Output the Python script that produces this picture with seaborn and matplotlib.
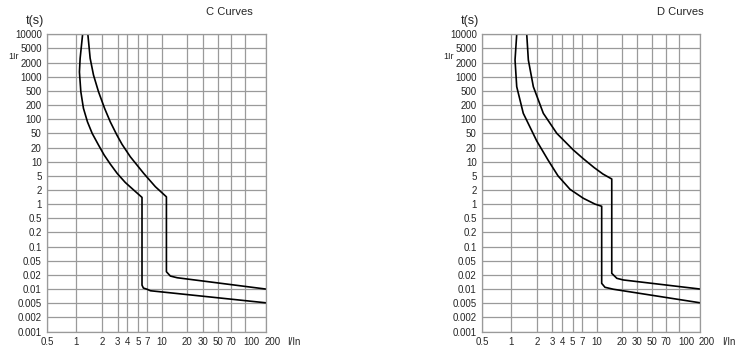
import numpy as np
import pandas as pd
import matplotlib
matplotlib.use("Agg")
import matplotlib.pyplot as plt
import matplotlib.transforms as mtransforms
import seaborn as sns

sns.set_theme(style="white")
plt.rcParams["font.family"] = ["Liberation Sans", "DejaVu Sans"]

# axis tick values (current multiple I/In, trip time t in s)
X_TICKS = [0.5, 1, 2, 3, 4, 5, 7, 10, 20, 30, 50, 70, 100, 200]
Y_TICKS = [10000, 5000, 2000, 1000, 500, 200, 100, 50, 20, 10, 5, 2, 1,
           0.5, 0.2, 0.1, 0.05, 0.02, 0.01, 0.005, 0.002, 0.001]

# C curve band
C_LOW_I = [1.19, 1.113, 1.092, 1.134, 1.216, 1.355, 1.538, 1.824, 2.12, 2.48,
           2.97, 3.75, 4.56, 5.8, 5.8, 6.1, 6.98, 7.57, 200]
C_LOW_T = [10000, 2640, 1262, 474, 171, 88, 50, 23.5, 13.8, 8.9,
           5.6, 3.25, 2.0, 1.39, 0.0121, 0.0105, 0.0099, 0.0092, 0.0051]
C_HIGH_I = [1.37, 1.457, 1.594, 1.824, 2.14, 2.48, 2.94, 3.41, 4.25, 6.16,
            8.53, 11.3, 11.3, 12.6, 15.2, 200]
C_HIGH_T = [10000, 2640, 1089, 474, 171, 88, 44.9, 24.6, 12.7, 5.65,
            2.47, 1.43, 0.0245, 0.0189, 0.0174, 0.01]

# D curve band
D_LOW_I = [1.165, 1.113, 1.165, 1.39, 2.0, 2.68, 3.53, 4.72, 7.26, 9.62,
           11.5, 11.5, 12.6, 15.9, 200]
D_LOW_T = [10000, 2366, 614, 133.5, 30.5, 10.8, 5.0, 2.09, 1.33, 1.0,
           0.9, 0.0132, 0.0109, 0.0099, 0.0051]
D_HIGH_I = [1.526, 1.594, 1.824, 2.37, 3.41, 5.12, 7.2, 9.4, 11.9, 15.2,
            15.2, 17.5, 20.9, 200]
D_HIGH_T = [10000, 2366, 614, 133.5, 50, 17.7, 11.7, 7.5, 5.46, 4.07,
            0.0221, 0.0169, 0.0156, 0.01]

# the printed chart's x grid is only roughly logarithmic: spacing of the ticks
X_SPACING = [0, 0.132, 0.250, 0.322, 0.367, 0.415, 0.457, 0.525,
             0.640, 0.712, 0.781, 0.842, 0.904, 1.0]

GRID = "#9a9a9a"

lx = np.log10(X_TICKS)
ly = np.log10(Y_TICKS[::-1])
yidx = np.arange(len(Y_TICKS))


def x_fwd(v):
    return np.interp(np.log10(np.clip(np.asarray(v, float), 1e-12, None)), lx, X_SPACING)


def x_inv(p):
    return 10 ** np.interp(np.asarray(p, float), X_SPACING, lx)


def y_fwd(v):
    # every printed time value sits one equal step apart
    return np.interp(np.log10(np.clip(np.asarray(v, float), 1e-12, None)), ly, yidx)


def y_inv(p):
    return 10 ** np.interp(np.asarray(p, float), yidx, ly)


def draw_panel(ax, curves, title, title_x):
    for xs, ts in curves:
        df = pd.DataFrame({"I": xs, "t": ts})
        sns.lineplot(data=df, x="I", y="t", sort=False, estimator=None,
                     color="black", lw=1.2, ax=ax)
    ax.set_xscale("function", functions=(x_fwd, x_inv))
    ax.set_yscale("function", functions=(y_fwd, y_inv))
    ax.set_xlim(0.5, 200)
    ax.set_ylim(0.001, 10000)
    ax.set_xticks(X_TICKS)
    ax.set_xticklabels([f"{v:g}" for v in X_TICKS], fontsize=7)
    ax.set_yticks(Y_TICKS)
    ax.set_yticklabels([f"{v:g}" for v in Y_TICKS], fontsize=7)
    ax.minorticks_off()
    ax.tick_params(length=0, pad=4)
    # the last two labels are printed a little right of their grid lines
    for lab in ax.get_xticklabels():
        if lab.get_text() in ("100", "200"):
            shift = mtransforms.ScaledTranslation(7 / 100, 0, fig.dpi_scale_trans)
            lab.set_transform(lab.get_transform() + shift)
    ax.grid(True, color=GRID, lw=0.9)
    for s in ax.spines.values():
        s.set_color(GRID)
        s.set_linewidth(0.9)
    ax.set_xlabel("")
    ax.set_ylabel("")
    ax.text(-0.055, 1.046, "t(s)", transform=ax.transAxes, ha="center", va="center", fontsize=9)
    ax.text(-0.155, 0.924, "1Ir", transform=ax.transAxes, ha="center", va="center", fontsize=6.5)
    ax.text(title_x, 1.076, title, transform=ax.transAxes, ha="right", va="center", fontsize=8)
    ax.text(1.13, -0.036, "I/In", transform=ax.transAxes, ha="center", va="center", fontsize=7)


fig = plt.figure(figsize=(7.5, 3.59), dpi=100)
ax1 = fig.add_axes([0.0631, 0.0766, 0.2912, 0.8279])
ax2 = fig.add_axes([0.6431, 0.0766, 0.2903, 0.8279])

draw_panel(ax1, [(C_LOW_I, C_LOW_T), (C_HIGH_I, C_HIGH_T)], "C Curves", 0.942)
draw_panel(ax2, [(D_LOW_I, D_LOW_T), (D_HIGH_I, D_HIGH_T)], "D Curves", 1.018)

fig.savefig("out.png", dpi=100)
